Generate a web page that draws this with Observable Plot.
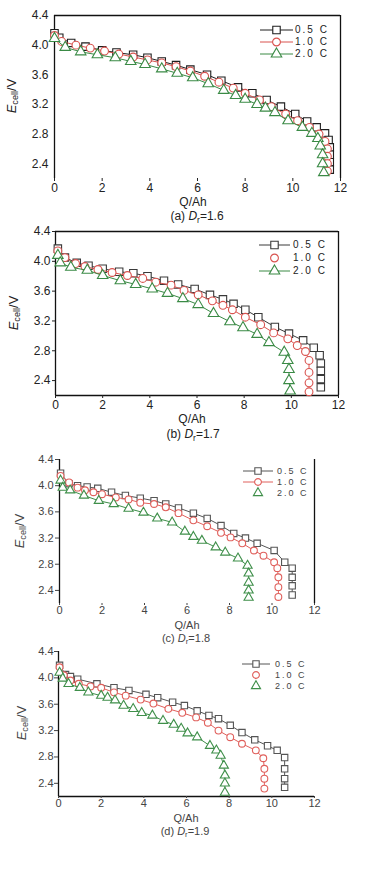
<!DOCTYPE html>
<html><head><meta charset="utf-8">
<script src="https://cdn.jsdelivr.net/npm/d3@7"></script>
<script src="https://cdn.jsdelivr.net/npm/@observablehq/plot@0.6"></script>
<style>
body{margin:0;background:#fff;font-family:"Liberation Sans",Arial,sans-serif;}
#root{position:relative;width:388px;height:886px;overflow:hidden;background:#fff;}
.abs{position:absolute;}
.lbl{position:absolute;transform:translate(-50%,-50%);white-space:nowrap;font-size:12px;line-height:1;}
.ylab{position:absolute;transform:translate(-50%,-50%) rotate(-90deg);white-space:nowrap;font-size:13px;line-height:1;}
.leg{position:absolute;transform:translateY(-50%);white-space:nowrap;line-height:1;letter-spacing:2px;}
sub{font-size:70%;vertical-align:-0.3em;line-height:0;}
</style></head><body><div id="root"></div>
<script>
// ---- data ----
const seriesNames = ["0.5 C", "1.0 C", "2.0 C"];
const panelLetters = ["(a)", "(b)", "(c)", "(d)"];
const drValues = ["1.6", "1.7", "1.8", "1.9"];
const xTicks = [0, 2, 4, 6, 8, 10, 12];
const yTicks = [2.4, 2.8, 3.2, 3.6, 4.0, 4.4];
const xDomain = [0, 12];
const yDomain = [2.2, 4.4];
const xLabel = "Q/Ah";

// panel (a) Dr=1.6
const aQ05 = [0, 0.2, 0.7, 1.3, 2.0, 2.6, 3.3, 3.9, 4.5, 5.1, 5.7, 6.4, 7.0, 7.7, 8.3, 8.9, 9.5, 10.1, 10.6, 11.0, 11.35, 11.5, 11.55, 11.55, 11.55, 11.55];
const aE05 = [4.16, 4.10, 4.03, 3.98, 3.93, 3.90, 3.87, 3.83, 3.78, 3.73, 3.67, 3.60, 3.52, 3.43, 3.35, 3.26, 3.17, 3.07, 2.97, 2.89, 2.81, 2.72, 2.62, 2.52, 2.42, 2.32];
const aQ10 = [0, 0.3, 0.9, 1.5, 2.1, 2.7, 3.3, 3.9, 4.5, 5.1, 5.7, 6.3, 6.9, 7.5, 8.0, 8.6, 9.1, 9.7, 10.2, 10.7, 11.1, 11.35, 11.45, 11.45, 11.45, 11.45];
const aE10 = [4.13, 4.05, 4.00, 3.96, 3.92, 3.88, 3.84, 3.80, 3.76, 3.71, 3.65, 3.58, 3.50, 3.42, 3.35, 3.26, 3.17, 3.07, 2.98, 2.89, 2.80, 2.70, 2.60, 2.50, 2.40, 2.30];
const aQ20 = [0, 0.45, 1.1, 1.8, 2.55, 3.2, 3.8, 4.5, 5.15, 5.8, 6.45, 7.1, 7.6, 8.0, 8.5, 8.85, 9.25, 9.8, 10.4, 10.8, 11.05, 11.15, 11.25, 11.25, 11.3];
const aE20 = [4.09, 3.97, 3.91, 3.87, 3.83, 3.78, 3.74, 3.68, 3.62, 3.56, 3.48, 3.39, 3.32, 3.27, 3.20, 3.15, 3.09, 2.98, 2.89, 2.81, 2.74, 2.64, 2.52, 2.40, 2.28];

// panel (b) Dr=1.7
const bQ05 = [0.1, 0.4, 0.9, 1.4, 2.0, 2.7, 3.3, 3.9, 4.6, 5.2, 5.9, 6.55, 7.1, 7.55, 8.05, 8.6, 9.3, 9.9, 10.5, 10.95, 11.2, 11.25, 11.25, 11.25, 11.25];
const bE05 = [4.17, 4.05, 3.98, 3.94, 3.90, 3.86, 3.84, 3.80, 3.74, 3.69, 3.63, 3.55, 3.49, 3.43, 3.35, 3.25, 3.12, 3.03, 2.94, 2.84, 2.74, 2.63, 2.53, 2.42, 2.31];
const bQ10 = [0.1, 0.4, 0.85, 1.25, 1.8, 2.4, 3.05, 3.7, 4.25, 4.9, 5.45, 6.05, 6.65, 7.1, 7.5, 8.05, 8.7, 9.25, 9.85, 10.25, 10.6, 10.75, 10.75, 10.75, 10.75];
const bE10 = [4.14, 4.05, 3.97, 3.93, 3.89, 3.85, 3.81, 3.77, 3.72, 3.68, 3.61, 3.55, 3.47, 3.41, 3.35, 3.25, 3.15, 3.04, 2.96, 2.87, 2.79, 2.67, 2.51, 2.37, 2.25];
const bQ20 = [0.1, 0.2, 0.65, 1.35, 2.0, 2.75, 3.4, 4.1, 4.75, 5.4, 6.05, 6.7, 7.4, 7.95, 8.55, 9.05, 9.7, 9.85, 9.9, 9.9, 9.95];
const bE20 = [4.08, 3.98, 3.92, 3.88, 3.81, 3.74, 3.69, 3.63, 3.57, 3.50, 3.42, 3.30, 3.19, 3.11, 3.02, 2.91, 2.78, 2.67, 2.55, 2.40, 2.26];

// panel (c) Dr=1.8
const cQ05 = [0.05, 0.45, 0.85, 1.3, 1.8, 2.45, 3.1, 3.8, 4.45, 5.0, 5.6, 6.3, 6.95, 7.6, 8.2, 8.75, 9.3, 10.1, 10.6, 10.95, 10.95, 10.95, 10.95];
const cE05 = [4.19, 4.03, 4.00, 3.98, 3.96, 3.90, 3.85, 3.81, 3.77, 3.72, 3.66, 3.58, 3.50, 3.39, 3.27, 3.20, 3.12, 3.01, 2.83, 2.74, 2.60, 2.47, 2.33];
const cQ10 = [0.05, 0.45, 0.85, 1.2, 1.6, 2.0, 2.65, 3.25, 3.8, 4.45, 5.0, 5.6, 6.3, 6.95, 7.6, 8.05, 8.6, 9.15, 9.6, 10.1, 10.25, 10.3, 10.3, 10.3];
const cE10 = [4.15, 4.05, 3.97, 3.93, 3.90, 3.87, 3.82, 3.79, 3.74, 3.72, 3.67, 3.58, 3.47, 3.38, 3.28, 3.21, 3.12, 3.01, 2.93, 2.83, 2.74, 2.60, 2.45, 2.30];
const cQ20 = [0.05, 0.15, 0.5, 1.15, 1.85, 2.55, 3.25, 3.95, 4.6, 5.3, 5.9, 6.3, 6.7, 7.35, 7.8, 8.4, 8.85, 8.9, 8.9, 8.9, 8.9];
const cE20 = [4.08, 3.97, 3.93, 3.85, 3.77, 3.72, 3.65, 3.59, 3.50, 3.44, 3.30, 3.22, 3.16, 3.06, 2.98, 2.89, 2.78, 2.66, 2.52, 2.40, 2.29];

// panel (d) Dr=1.9
const dQ05 = [0.05, 0.33, 0.56, 0.9, 1.8, 2.6, 3.3, 4.1, 4.65, 5.35, 5.9, 6.5, 7.05, 7.5, 8.05, 8.6, 9.2, 9.8, 10.25, 10.6, 10.6, 10.6, 10.6];
const dE05 = [4.19, 4.05, 4.02, 3.98, 3.91, 3.85, 3.81, 3.75, 3.70, 3.63, 3.58, 3.50, 3.43, 3.38, 3.28, 3.17, 3.06, 2.97, 2.90, 2.79, 2.62, 2.47, 2.34];
const dQ10 = [0.05, 0.25, 0.56, 0.95, 1.5, 2.0, 2.6, 3.15, 3.85, 4.45, 5.15, 5.8, 6.45, 7.0, 7.5, 8.05, 8.6, 9.25, 9.6, 9.65, 9.65, 9.65];
const dE10 = [4.16, 4.04, 3.96, 3.91, 3.87, 3.85, 3.78, 3.73, 3.67, 3.61, 3.53, 3.47, 3.40, 3.32, 3.20, 3.10, 3.00, 2.90, 2.78, 2.62, 2.47, 2.32];
const dQ20 = [0.05, 0.2, 0.47, 1.0, 1.4, 2.0, 2.3, 2.65, 3.05, 3.5, 3.9, 4.4, 4.9, 5.4, 5.75, 6.05, 6.5, 7.1, 7.4, 7.6, 7.75, 7.8, 7.8, 7.8];
const dE20 = [4.08, 3.99, 3.91, 3.85, 3.78, 3.73, 3.70, 3.66, 3.58, 3.53, 3.47, 3.43, 3.35, 3.29, 3.23, 3.16, 3.10, 2.97, 2.90, 2.82, 2.67, 2.52, 2.40, 2.26];

// ---- layout / style ----
const symbols = ["square", "circle", "triangle"];
const panels = [
  {q:[aQ05,aQ10,aQ20], e:[aE05,aE10,aE20], L:54, R:340, T:15, B:178, sides:["left","top","right"],
   colors:["#1e1e1e","#d9534f","#3a8a45"], r:[4.2,3.9,3.9], fs:12, lfs:10, txt:"#222", ytS:0, ytP:6, xtS:3, xtP:2,
   ylab:[11,96], xlab:[193,202], cap:[197,216], leg:{x1:260,x2:293,tx:295,ys:[30,42,54],line:[1,1,1]}},
  {q:[bQ05,bQ10,bQ20], e:[bE05,bE10,bE20], L:55, R:338, T:231, B:395, sides:["left","top","right","bottom"],
   colors:["#3a3a3a","#d9534f","#3a8a45"], r:[4.2,3.9,3.9], fs:12, lfs:10, txt:"#222", ytS:3, ytP:2, xtS:3, xtP:2,
   ylab:[13,313], xlab:[192,419], cap:[193,434], leg:{x1:259,x2:290,tx:293,ys:[245,258,271],line:[1,0,1]}},
  {q:[cQ05,cQ10,cQ20], e:[cE05,cE10,cE20], L:59, R:314, T:459, B:603, sides:["left","right"],
   colors:["#555","#e0605c","#3f8f4a"], r:[3.6,3.4,3.4], fs:11, lfs:9, txt:"#444", ytS:4, ytP:2, xtS:2, xtP:1,
   ylab:[19,531], xlab:[187,625], cap:[186,638], leg:{x1:243,x2:273,tx:277,ys:[471,482,493],line:[1,1,0]}},
  {q:[dQ05,dQ10,dQ20], e:[dE05,dE10,dE20], L:58, R:314, T:651, B:796, sides:["left","bottom"],
   colors:["#555","#e0605c","#3f8f4a"], r:[3.6,3.4,3.4], fs:11, lfs:9, txt:"#444", ytS:4, ytP:1, xtS:2, xtP:1,
   ylab:[21,723], xlab:[186,818], cap:[185,831], leg:{x1:242,x2:270,tx:275,ys:[664,675,686],line:[1,0,0]}}
];

const root = document.getElementById("root");
const mTop = 10, mBottom = 25, W = 388;

function el(tag, cls, html, style) {
  const e = document.createElement(tag);
  if (cls) e.className = cls;
  if (html != null) e.innerHTML = html;
  Object.assign(e.style, style || {});
  root.appendChild(e);
  return e;
}

panels.forEach((p, k) => {
  const data = [];
  p.q.forEach((qs, s) => qs.forEach((v, i) => data.push({q: v, e: p.e[s][i], s})));
  const marks = [];
  const sideMarks = {
    left: () => Plot.ruleX([xDomain[0]], {stroke: "#111", strokeWidth: 1.3}),
    right: () => Plot.ruleX([xDomain[1]], {stroke: "#111", strokeWidth: 1.3}),
    top: () => Plot.ruleY([yDomain[1]], {stroke: "#111", strokeWidth: 1.3}),
    bottom: () => Plot.ruleY([yDomain[0]], {stroke: "#111", strokeWidth: 1.3})
  };
  p.sides.forEach(sd => marks.push(sideMarks[sd]()));
  marks.push(Plot.axisX({ticks: xTicks, tickSize: p.xtS, tickPadding: p.xtP, label: null, tickFormat: d3.format("d")}));
  marks.push(Plot.axisY({ticks: yTicks, tickSize: p.ytS, tickPadding: p.ytP, label: null, tickFormat: d3.format(".1f")}));
  [0, 1, 2].forEach(s => {
    const sd = data.filter(d => d.s === s);
    marks.push(Plot.line(sd, {x: "q", y: "e", stroke: p.colors[s], strokeWidth: 1}));
    marks.push(Plot.dot(sd, {x: "q", y: "e", symbol: symbols[s], r: p.r[s], stroke: p.colors[s], fill: "white", strokeWidth: 1.1}));
  });
  const H = (p.B - p.T) + mTop + mBottom;
  const chart = Plot.plot({
    width: W, height: H,
    marginLeft: p.L, marginRight: W - p.R, marginTop: mTop, marginBottom: mBottom,
    x: {domain: xDomain}, y: {domain: yDomain},
    style: {fontFamily: '"Liberation Sans", Arial, sans-serif', fontSize: p.fs + "px", color: p.txt, background: "transparent", overflow: "visible"},
    marks
  });
  const wrap = el("div", "abs", null, {left: "0px", top: (p.T - mTop) + "px"});
  wrap.appendChild(chart);

  // axis titles and caption
  el("div", "ylab", '<i>E</i><sub>cell</sub>/V', {left: p.ylab[0] + "px", top: p.ylab[1] + "px", color: p.txt});
  el("div", "lbl", xLabel, {left: p.xlab[0] + "px", top: p.xlab[1] + "px", color: p.txt, fontSize: p.fs + "px"});
  el("div", "lbl", panelLetters[k] + ' <i>D</i><sub>r</sub>=' + drValues[k], {left: p.cap[0] + "px", top: p.cap[1] + "px", color: p.txt, fontSize: p.fs + "px"});

  // legend
  const lg = p.leg;
  seriesNames.forEach((name, s) => {
    const w = lg.x2 - lg.x1;
    const svg = d3.create("svg").attr("width", w).attr("height", 10).style("position", "absolute")
      .style("left", lg.x1 + "px").style("top", (lg.ys[s] - 5) + "px").style("overflow", "visible");
    if (lg.line[s]) svg.append("line").attr("x1", 0).attr("x2", w).attr("y1", 5).attr("y2", 5)
      .attr("stroke", p.colors[s]).attr("stroke-width", 1);
    const sym = [d3.symbolSquare, d3.symbolCircle, d3.symbolTriangle][s];
    svg.append("path").attr("d", d3.symbol(sym, Math.PI * p.r[s] * p.r[s])())
      .attr("transform", `translate(${w / 2},5)`).attr("fill", "white").attr("stroke", p.colors[s]).attr("stroke-width", 1.1);
    root.appendChild(svg.node());
    el("div", "leg", name, {left: lg.tx + "px", top: lg.ys[s] + "px", color: p.txt, fontSize: p.lfs + "px"});
  });
});
</script></body></html>
